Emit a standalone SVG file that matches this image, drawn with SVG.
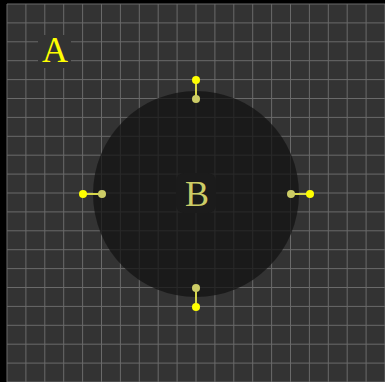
<svg xmlns="http://www.w3.org/2000/svg" width="385" height="382" viewBox="0 0 385 382">
<defs>
<style>
.grid{stroke:#6a6a6a;stroke-width:1;fill:none}
.lbl{font-family:"Liberation Serif","Times New Roman",serif;font-size:36px;text-anchor:middle}
.wire{stroke:#d8d84a;stroke-width:2}
.pin{fill:#ffff00}
.pout{fill:#cccc66}
</style>
</defs>
<rect x="0" y="0" width="385" height="382" fill="#000"/>
<rect x="7" y="4" width="378" height="378" fill="#333333"/>
<path class="grid" d="M7 4V382M25.9 4V382M44.8 4V382M63.7 4V382M82.6 4V382M101.5 4V382M120.4 4V382M139.3 4V382M158.2 4V382M177.1 4V382M196 4V382M214.9 4V382M233.8 4V382M252.7 4V382M271.6 4V382M290.5 4V382M309.4 4V382M328.3 4V382M347.2 4V382M366.1 4V382M385 4V382M7 4H385M7 22.9H385M7 41.8H385M7 60.7H385M7 79.6H385M7 98.5H385M7 117.4H385M7 136.3H385M7 155.2H385M7 174.1H385M7 193H385M7 211.9H385M7 230.8H385M7 249.7H385M7 268.6H385M7 287.5H385M7 306.4H385M7 325.3H385M7 344.2H385M7 363.1H385M7 382H385"/>
<g id="A">
<rect x="38" y="35" width="33" height="33" fill="#333333"/>
<text class="lbl" x="55" y="62" fill="#ffff00">A</text>
</g>
<g id="B">
<circle cx="196" cy="194" r="103" fill="#131313" fill-opacity="0.75"/>
<rect x="176" y="173" width="40" height="40" rx="8" fill="#1b1b1b"/>
<text class="lbl" x="197" y="206" fill="#cccc66">B</text>
</g>
<g id="connectors">
<line class="wire" x1="196" y1="80" x2="196" y2="99"/>
<line class="wire" x1="83" y1="194" x2="102" y2="194"/>
<line class="wire" x1="291" y1="194" x2="310" y2="194"/>
<line class="wire" x1="196" y1="288" x2="196" y2="307"/>
<circle class="pin" cx="196" cy="80" r="4"/>
<circle class="pout" cx="196" cy="99" r="4"/>
<circle class="pin" cx="83" cy="194" r="4"/>
<circle class="pout" cx="102" cy="194" r="4"/>
<circle class="pout" cx="291" cy="194" r="4"/>
<circle class="pin" cx="310" cy="194" r="4"/>
<circle class="pout" cx="196" cy="288" r="4"/>
<circle class="pin" cx="196" cy="307" r="4"/>
</g>
</svg>
